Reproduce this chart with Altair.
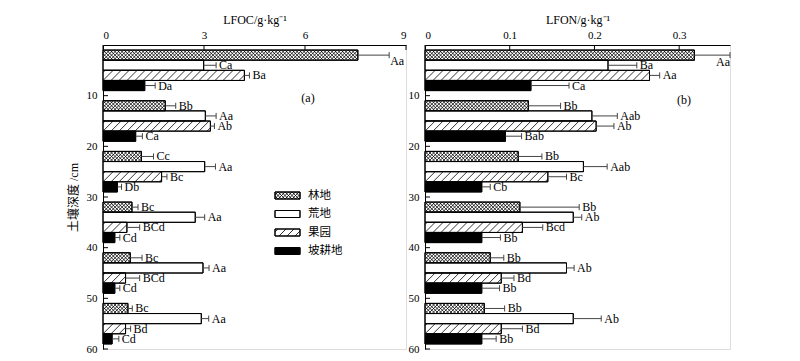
import altair as alt
import pandas as pd
import numpy as np

# ---------------- data ----------------
depths = [0, 10, 20, 30, 40, 50]
land_uses = ["林地", "荒地", "果园", "坡耕地"]

lfoc_mean = {
    "林地": [7.57, 1.85, 1.14, 0.86, 0.81, 0.74],
    "荒地": [2.99, 3.04, 3.02, 2.74, 2.97, 2.92],
    "果园": [4.20, 3.19, 1.74, 0.71, 0.67, 0.67],
    "坡耕地": [1.24, 0.97, 0.43, 0.35, 0.35, 0.27],
}
lfoc_se = {
    "林地": [0.93, 0.31, 0.36, 0.18, 0.35, 0.13],
    "荒地": [0.37, 0.32, 0.32, 0.28, 0.18, 0.22],
    "果园": [0.15, 0.12, 0.16, 0.38, 0.42, 0.15],
    "坡耕地": [0.31, 0.20, 0.12, 0.15, 0.15, 0.20],
}
lfoc_sig = {
    "林地": ["Aa", "Bb", "Cc", "Bc", "Bc", "Bc"],
    "荒地": ["Ca", "Aa", "Aa", "Aa", "Aa", "Aa"],
    "果园": ["Ba", "Ab", "Bc", "BCd", "BCd", "Bd"],
    "坡耕地": ["Da", "Ca", "Db", "Cd", "Cd", "Cd"],
}

lfon_mean = {
    "林地": [0.318, 0.122, 0.110, 0.112, 0.077, 0.070],
    "荒地": [0.216, 0.197, 0.187, 0.175, 0.167, 0.175],
    "果园": [0.265, 0.202, 0.145, 0.115, 0.090, 0.090],
    "坡耕地": [0.125, 0.095, 0.067, 0.067, 0.067, 0.067],
}
lfon_se = {
    "林地": [0.042, 0.038, 0.028, 0.070, 0.016, 0.024],
    "荒地": [0.034, 0.030, 0.028, 0.010, 0.009, 0.033],
    "果园": [0.012, 0.021, 0.022, 0.024, 0.015, 0.025],
    "坡耕地": [0.045, 0.019, 0.010, 0.022, 0.021, 0.017],
}
lfon_sig = {
    "林地": ["Aa", "Bb", "Bb", "Bb", "Bb", "Bb"],
    "荒地": ["Ba", "Aab", "Aab", "Ab", "Ab", "Ab"],
    "果园": ["Aa", "Ab", "Bc", "Bcd", "Bd", "Bd"],
    "坡耕地": ["Ca", "Bab", "Cb", "Bb", "Bb", "Bb"],
}

x_ticks_a = [0, 3, 6, 9]
x_ticks_b = [0, 0.1, 0.2, 0.3]
y_ticks = [10, 20, 30, 40, 50, 60]

# ---------------- style ----------------
SERIF = "Liberation Serif, Times New Roman, Noto Sans CJK SC"
H = 304
Y_MAX = 60
KY = H / Y_MAX
FILLS = ["white", "white", "white", "black"]
HATCH = {"林地": [(3.5, 1), (3.5, -1)], "果园": [(8.0, 1)]}


def hatch_segments(x0, x1, ytop, ybot, spacing, direction):
    h = ybot - ytop
    segs = []
    c = np.floor((x0 - h) / spacing) * spacing
    while c <= x1:
        t0 = max(0.0, x0 - c)
        t1 = min(h, x1 - c)
        if t1 > t0:
            if direction == 1:
                segs.append((c + t0, ybot - t0, c + t1, ybot - t1))
            else:
                segs.append((c + t0, ytop + t0, c + t1, ytop + t1))
        c += spacing
    return segs


def hatch_df(rects, kx):
    rows = []
    for land, x0, x1, y0, y1 in rects:
        for spacing, d in HATCH.get(land, []):
            for a, b, c, e in hatch_segments(x0 * kx, x1 * kx, y0 * KY, y1 * KY, spacing, d):
                rows.append({"hx": a / kx, "hy": b / KY, "hx2": c / kx, "hy2": e / KY})
    return pd.DataFrame(rows, columns=["hx", "hy", "hx2", "hy2"])


def panel(mean, se, sig, xmax, width, xticks, title, ytitle, tag, tag_pos,
          special, legend):
    kx = width / xmax
    rows = []
    for i, land in enumerate(land_uses):
        for j, d in enumerate(depths):
            v = mean[land][j]
            top = d + 1 + 2 * i
            rows.append({
                "land": land, "x0": 0.0, "value": v, "err": v + se[land][j],
                "top": top, "bot": top + 2, "center": top + 1,
                "cap0": top + 0.4, "cap1": top + 1.6,
                "label": sig[land][j],
                "special": (land == "林地" and d == 0),
            })
    df = pd.DataFrame(rows)

    xs = alt.Scale(domain=[0, xmax], nice=False, zero=True)
    ys = alt.Scale(domain=[0, Y_MAX], nice=False, reverse=True)
    xaxis = alt.Axis(orient="top", values=xticks, tickSize=0, grid=False,
                     format="~g", labelFont=SERIF, labelFontSize=11,
                     labelPadding=5, titleFont=SERIF, titleFontSize=12,
                     titleFontWeight="normal", titlePadding=3,
                     domainColor="black", labelColor="black", titleColor="black")
    yaxis = alt.Axis(values=y_ticks, tickSize=0, grid=False, labelFont=SERIF,
                     labelFontSize=11, labelPadding=6, titleFont=SERIF,
                     titleFontSize=12, titleFontWeight="normal", titlePadding=6,
                     domainColor="black", labelColor="black", titleColor="black",
                     title=ytitle if ytitle else None)

    base = alt.Chart(df)
    fillscale = alt.Scale(domain=land_uses, range=FILLS)

    bars = base.mark_rect(stroke="black", strokeWidth=1).encode(
        x=alt.X("x0:Q", scale=xs, axis=xaxis, title=title),
        x2="value:Q",
        y=alt.Y("top:Q", scale=ys, axis=yaxis),
        y2="bot:Q",
        fill=alt.Fill("land:N", scale=fillscale, legend=None),
    )

    rects = [(r.land, 0.0, r.value, r.top, r.bot) for r in df.itertuples()]
    leg_df = None
    if legend:
        lrows = []
        for i, land in enumerate(land_uses):
            cy = 150.5 + 18.5 * i
            lrows.append({"land": land, "lx0": 172 / kx, "lx1": 197 / kx,
                          "ly0": (cy - 3.5) / KY, "ly1": (cy + 3.5) / KY,
                          "tx": 205 / kx, "ty": cy / KY})
        leg_df = pd.DataFrame(lrows)
        rects += [(r.land, r.lx0, r.lx1, r.ly0, r.ly1) for r in leg_df.itertuples()]

    hd = hatch_df(rects, kx)
    hatch = alt.Chart(hd).mark_rule(color="black", strokeWidth=0.8).encode(
        x=alt.X("hx:Q", scale=xs), x2="hx2:Q",
        y=alt.Y("hy:Q", scale=ys), y2="hy2:Q")

    outline = base.mark_rect(fill=None, stroke="black", strokeWidth=1).encode(
        x=alt.X("x0:Q", scale=xs), x2="value:Q",
        y=alt.Y("top:Q", scale=ys), y2="bot:Q")

    ebar = base.mark_rule(color="#444", strokeWidth=1).encode(
        x=alt.X("value:Q", scale=xs), x2="err:Q",
        y=alt.Y("center:Q", scale=ys))
    ecap = base.mark_rule(color="#444", strokeWidth=1).encode(
        x=alt.X("err:Q", scale=xs),
        y=alt.Y("cap0:Q", scale=ys), y2="cap1:Q")

    labels = base.transform_filter("!datum.special").mark_text(
        align="left", baseline="middle", dx=3, font=SERIF, fontSize=12,
        color="black").encode(
        x=alt.X("err:Q", scale=xs), y=alt.Y("center:Q", scale=ys), text="label:N")
    sp_labels = base.transform_filter("datum.special").mark_text(
        baseline="middle", font=SERIF, fontSize=12, color="black", **special).encode(
        x=alt.X("err:Q", scale=xs), y=alt.Y("center:Q", scale=ys), text="label:N")

    xt = alt.Chart(pd.DataFrame({"t": xticks})).mark_rule(color="black").encode(
        x=alt.X("t:Q", scale=xs), y=alt.value(0), y2=alt.value(5))
    yt = alt.Chart(pd.DataFrame({"t": y_ticks})).mark_rule(color="black").encode(
        y=alt.Y("t:Q", scale=ys), x=alt.value(0), x2=alt.value(5))

    tagm = alt.Chart(pd.DataFrame({"s": [tag]})).mark_text(
        font=SERIF, fontSize=12, color="black", baseline="middle").encode(
        x=alt.value(tag_pos[0]), y=alt.value(tag_pos[1]), text="s:N")

    layers = [bars, hatch, outline, ebar, ecap, labels, sp_labels, xt, yt, tagm]

    if legend:
        lb = alt.Chart(leg_df)
        sw = lb.mark_rect(stroke="black", strokeWidth=1).encode(
            x=alt.X("lx0:Q", scale=xs), x2="lx1:Q",
            y=alt.Y("ly0:Q", scale=ys), y2="ly1:Q",
            fill=alt.Fill("land:N", scale=fillscale, legend=None))
        swo = lb.mark_rect(fill=None, stroke="black", strokeWidth=1).encode(
            x=alt.X("lx0:Q", scale=xs), x2="lx1:Q",
            y=alt.Y("ly0:Q", scale=ys), y2="ly1:Q")
        lt = lb.mark_text(align="left", baseline="middle", font=SERIF,
                          fontSize=11.5, color="black").encode(
            x=alt.X("tx:Q", scale=xs), y=alt.Y("ty:Q", scale=ys), text="land:N")
        layers = [bars, sw, hatch, outline, swo, ebar, ecap, labels, sp_labels,
                  xt, yt, tagm, lt]

    return alt.layer(*layers).properties(width=width, height=H)


pa = panel(lfoc_mean, lfoc_se, lfoc_sig, 9, 303, x_ticks_a, "LFOC/g·kg⁻¹",
           "土壤深度 /cm", "(a)", (205, 53),
           {"align": "left", "dx": 1, "dy": 6}, True)
pb = panel(lfon_mean, lfon_se, lfon_sig, 0.36, 305, x_ticks_b, "LFON/g·kg⁻¹",
           None, "(b)", (259, 55),
           {"align": "right", "dx": 0, "dy": 7}, False)

chart = alt.hconcat(pa, pb, spacing=19, bounds="flush").properties(
    padding={"left": 58, "top": 4, "right": 5, "bottom": 5}
).configure_view(stroke=None).configure(background="white")

chart.save("out.html", embed_options={"renderer": "svg", "actions": False})
